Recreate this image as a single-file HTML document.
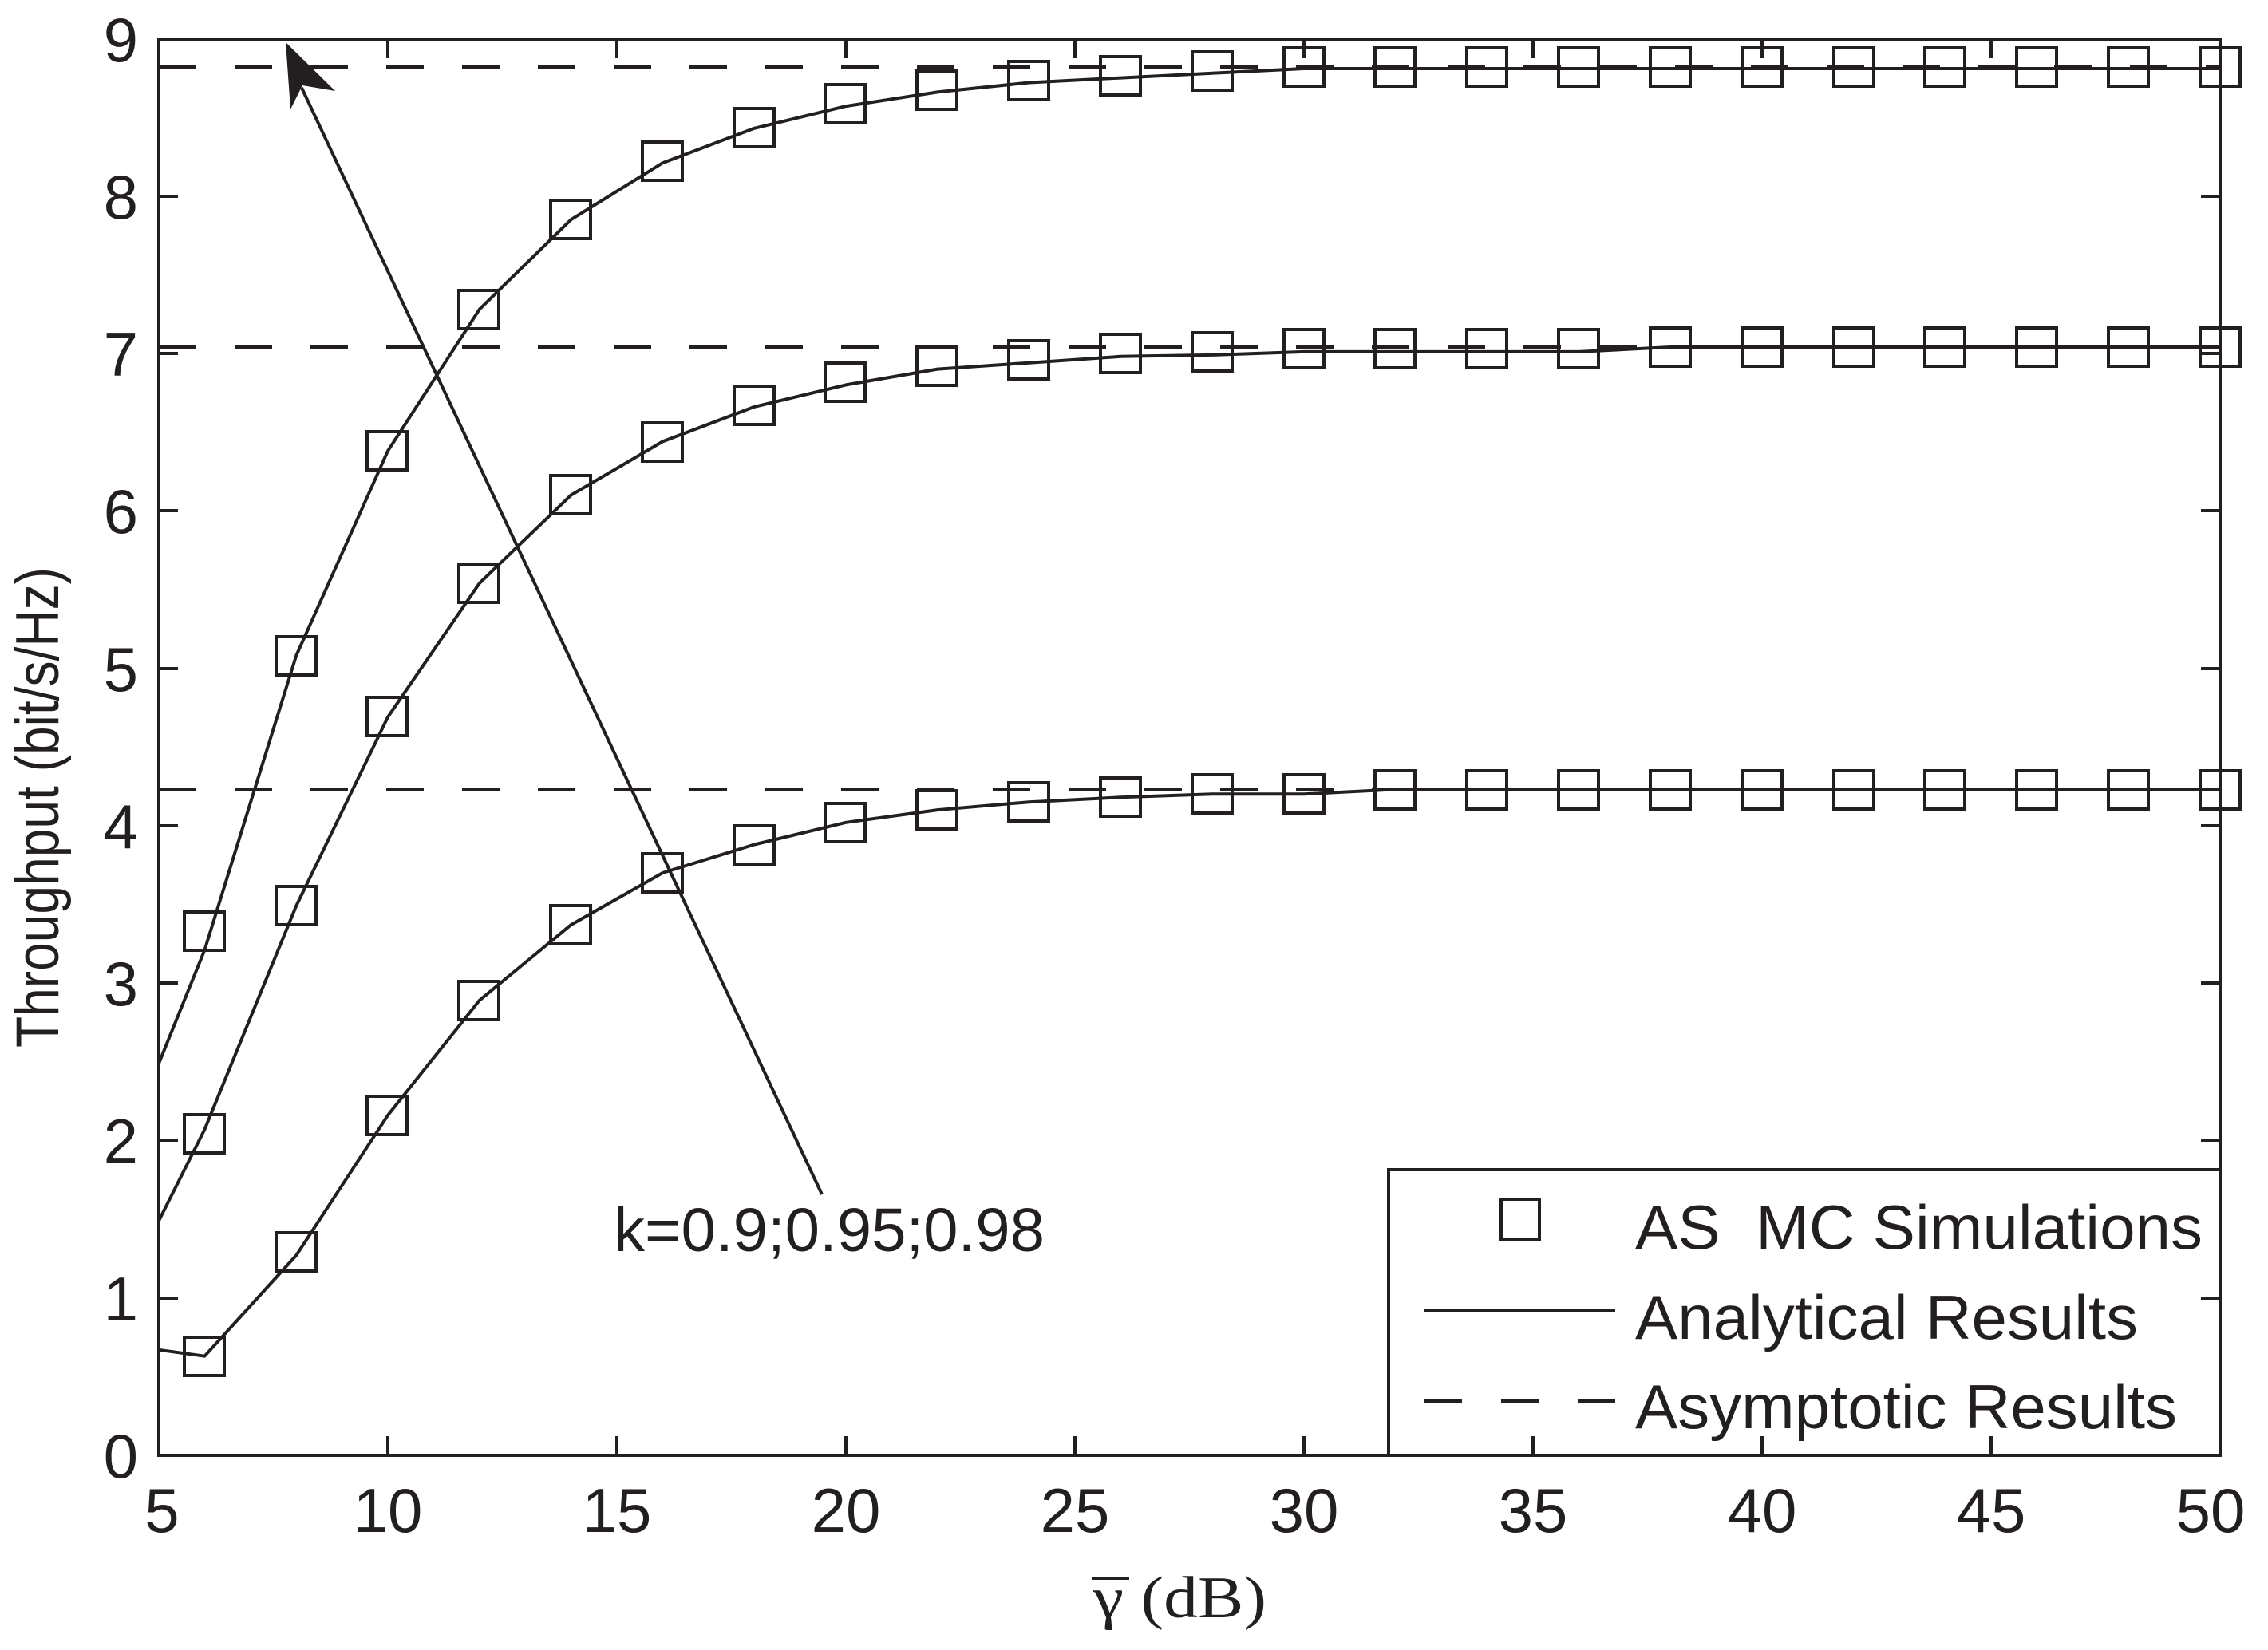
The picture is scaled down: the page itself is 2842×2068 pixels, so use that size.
<!DOCTYPE html>
<html><head><meta charset="utf-8"><style>
html,body{margin:0;padding:0;background:#fff;}
svg{display:block;}
text{font-family:"Liberation Sans",Arial,sans-serif;fill:#231f20;}
</style></head><body>
<svg width="2842" height="2068" viewBox="0 0 2842 2068" xmlns="http://www.w3.org/2000/svg">
<rect width="2842" height="2068" fill="#fff"/>
<g stroke="#231f20" fill="none" stroke-width="4">
<line x1="199" y1="84" x2="2782" y2="84" stroke-dasharray="47,48"/>
<line x1="199" y1="435" x2="2782" y2="435" stroke-dasharray="47,48"/>
<line x1="199" y1="989" x2="2782" y2="989" stroke-dasharray="47,48"/>
<polyline stroke-linejoin="round" points="199,1332.7 256.4,1190.7 371.2,821.7 486,565.2 600.8,387.7 715.6,275.2 830.4,204.2 945.2,160.8 1060,133.1 1174.8,115.4 1289.6,103.5 1404.4,97.6 1519.2,91.7 1634,86 2782,86"/>
<polyline stroke-linejoin="round" points="199,1530 256.4,1415.6 371.2,1135.4 486,898.7 600.8,731 715.6,620.5 830.4,553.4 945.2,509.9 1060,482.4 1174.8,462.6 1289.6,454.7 1404.4,446.8 1519.2,444.9 1634,440.9 1978.4,440.9 2093.2,435 2782,435"/>
<polyline stroke-linejoin="round" points="199,1691.8 256.4,1699.7 371.2,1573.4 486,1397.8 600.8,1253.8 715.6,1159.1 830.4,1094 945.2,1058.5 1060,1030.8 1174.8,1015.1 1289.6,1005.2 1404.4,999.3 1519.2,995.3 1634,995.3 1748.8,989.4 2782,989.4"/>
</g>
<g stroke="#231f20" fill="none" stroke-width="4">
<rect x="231" y="1143" width="50" height="48"/><rect x="346" y="798" width="50" height="48"/>
<rect x="460" y="541" width="50" height="48"/><rect x="575" y="364" width="50" height="48"/>
<rect x="690" y="251" width="50" height="48"/><rect x="805" y="178" width="50" height="48"/>
<rect x="920" y="136" width="50" height="48"/><rect x="1034" y="106" width="50" height="48"/>
<rect x="1149" y="89" width="50" height="48"/><rect x="1264" y="77" width="50" height="48"/>
<rect x="1379" y="71" width="50" height="48"/><rect x="1494" y="65" width="50" height="48"/>
<rect x="1609" y="60" width="50" height="48"/><rect x="1723" y="60" width="50" height="48"/>
<rect x="1838" y="60" width="50" height="48"/><rect x="1953" y="60" width="50" height="48"/>
<rect x="2068" y="60" width="50" height="48"/><rect x="2183" y="60" width="50" height="48"/>
<rect x="2298" y="60" width="50" height="48"/><rect x="2412" y="60" width="50" height="48"/>
<rect x="2527" y="60" width="50" height="48"/><rect x="2642" y="60" width="50" height="48"/>
<rect x="2757" y="60" width="50" height="48"/>
<rect x="231" y="1397" width="50" height="48"/><rect x="346" y="1111" width="50" height="48"/>
<rect x="460" y="874" width="50" height="48"/><rect x="575" y="707" width="50" height="48"/>
<rect x="690" y="596" width="50" height="48"/><rect x="805" y="530" width="50" height="48"/>
<rect x="920" y="484" width="50" height="48"/><rect x="1034" y="455" width="50" height="48"/>
<rect x="1149" y="435" width="50" height="48"/><rect x="1264" y="427" width="50" height="48"/>
<rect x="1379" y="419" width="50" height="48"/><rect x="1494" y="417" width="50" height="48"/>
<rect x="1609" y="413" width="50" height="48"/><rect x="1723" y="413" width="50" height="48"/>
<rect x="1838" y="413" width="50" height="48"/><rect x="1953" y="413" width="50" height="48"/>
<rect x="2068" y="411" width="50" height="48"/><rect x="2183" y="411" width="50" height="48"/>
<rect x="2298" y="411" width="50" height="48"/><rect x="2412" y="411" width="50" height="48"/>
<rect x="2527" y="411" width="50" height="48"/><rect x="2642" y="411" width="50" height="48"/>
<rect x="2757" y="411" width="50" height="48"/>
<rect x="231" y="1676" width="50" height="48"/><rect x="346" y="1545" width="50" height="48"/>
<rect x="460" y="1374" width="50" height="48"/><rect x="575" y="1230" width="50" height="48"/>
<rect x="690" y="1135" width="50" height="48"/><rect x="805" y="1070" width="50" height="48"/>
<rect x="920" y="1035" width="50" height="48"/><rect x="1034" y="1007" width="50" height="48"/>
<rect x="1149" y="991" width="50" height="48"/><rect x="1264" y="981" width="50" height="48"/>
<rect x="1379" y="975" width="50" height="48"/><rect x="1494" y="971" width="50" height="48"/>
<rect x="1609" y="971" width="50" height="48"/><rect x="1723" y="966" width="50" height="48"/>
<rect x="1838" y="966" width="50" height="48"/><rect x="1953" y="966" width="50" height="48"/>
<rect x="2068" y="966" width="50" height="48"/><rect x="2183" y="966" width="50" height="48"/>
<rect x="2298" y="966" width="50" height="48"/><rect x="2412" y="966" width="50" height="48"/>
<rect x="2527" y="966" width="50" height="48"/><rect x="2642" y="966" width="50" height="48"/>
<rect x="2757" y="966" width="50" height="48"/>
</g>
<line x1="1030" y1="1497" x2="378" y2="110" stroke="#231f20" stroke-width="4"/>
<polygon points="358,53 420,114 379,107 364,137" fill="#231f20"/>
<text x="769" y="1568" font-size="77" textLength="540" lengthAdjust="spacingAndGlyphs">k=0.9;0.95;0.98</text>
<rect x="1740" y="1466" width="1042" height="358" fill="#fff" stroke="#231f20" stroke-width="4"/>
<rect x="1881" y="1503" width="48" height="50" fill="none" stroke="#231f20" stroke-width="4"/>
<line x1="1785" y1="1642" x2="2024" y2="1642" stroke="#231f20" stroke-width="4"/>
<line x1="1785" y1="1756" x2="2024" y2="1756" stroke="#231f20" stroke-width="4" stroke-dasharray="47,49"/>
<text x="2049" y="1565" font-size="78" textLength="711" lengthAdjust="spacingAndGlyphs">AS&#160;&#160;MC Simulations</text>
<text x="2049" y="1678" font-size="78" textLength="630" lengthAdjust="spacingAndGlyphs">Analytical Results</text>
<text x="2049" y="1790" font-size="78" textLength="679" lengthAdjust="spacingAndGlyphs">Asymptotic Results</text>
<rect x="199" y="49" width="2583" height="1775" fill="none" stroke="#231f20" stroke-width="4"/>
<g stroke="#231f20" stroke-width="4">
<path d="M486,1824v-24M773,1824v-24M1060,1824v-24M1347,1824v-24M1634,1824v-24M1921,1824v-24M2208,1824v-24M2495,1824v-24
M486,49v24M773,49v24M1060,49v24M1347,49v24M1634,49v24M1921,49v24M2208,49v24M2495,49v24
M199,1627h24M199,1429h24M199,1232h24M199,1035h24M199,838h24M199,640h24M199,443h24M199,246h24
M2782,1627h-24M2782,1429h-24M2782,1232h-24M2782,1035h-24M2782,838h-24M2782,640h-24M2782,443h-24M2782,246h-24"/>
</g>
<g font-size="78" text-anchor="end">
<text x="173" y="1852">0</text><text x="173" y="1655">1</text><text x="173" y="1457">2</text>
<text x="173" y="1260">3</text><text x="173" y="1063">4</text><text x="173" y="866">5</text>
<text x="173" y="668">6</text><text x="173" y="471">7</text><text x="173" y="274">8</text>
<text x="173" y="77">9</text>
</g>
<g font-size="78" text-anchor="middle">
<text x="203" y="1920">5</text><text x="486" y="1920">10</text><text x="773" y="1920">15</text>
<text x="1060" y="1920">20</text><text x="1347" y="1920">25</text><text x="1634" y="1920">30</text>
<text x="1921" y="1920">35</text><text x="2208" y="1920">40</text><text x="2495" y="1920">45</text>
<text x="2770" y="1920">50</text>
</g>
<text transform="translate(73,1012) rotate(-90)" font-size="76" text-anchor="middle" textLength="602" lengthAdjust="spacingAndGlyphs">Throughput (bit/s/Hz)</text>
<line x1="1368" y1="1978" x2="1415" y2="1978" stroke="#231f20" stroke-width="4"/>
<text x="1370" y="2027" font-size="74" textLength="217" lengthAdjust="spacingAndGlyphs" style="font-family:'Liberation Serif',serif">γ&#160;(dB)</text>
</svg>
</body></html>
